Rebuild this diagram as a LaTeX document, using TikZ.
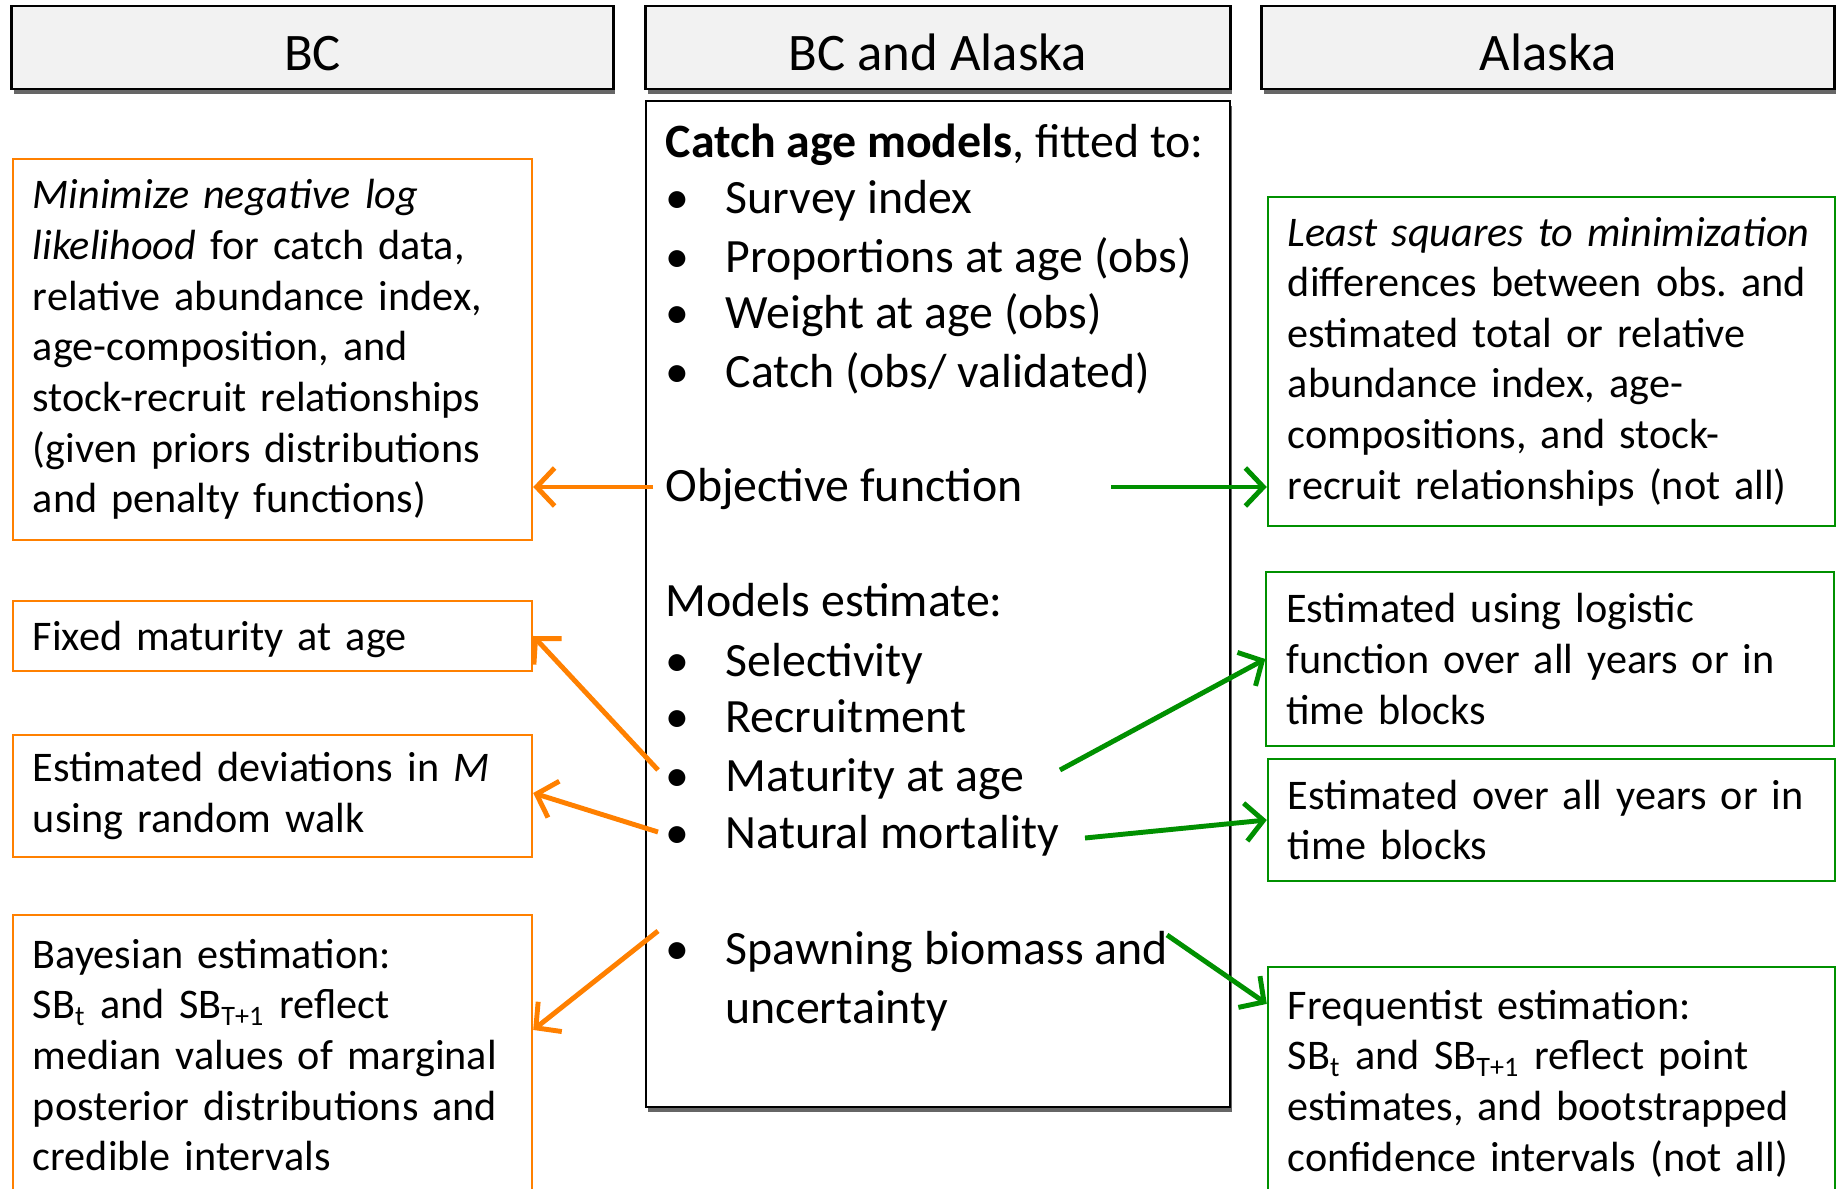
\documentclass[tikz,border=0pt]{standalone}
\usepackage{fontspec}
\setmainfont{Carlito}
\usetikzlibrary{arrows.meta,shadows}

\definecolor{bcorange}{RGB}{255,128,0}
\definecolor{akgreen}{RGB}{0,144,0}

\newcommand{\itembul}{\makebox[0.6cm][l]{\textbullet}}
\frenchspacing

\begin{document}
\begin{tikzpicture}[x=0.01cm,y=-0.01cm,
    headbox/.style={draw, line width=0.8pt, fill=black!5, minimum height=0.83cm,
        text height=13pt, text depth=0pt, font=\fontsize{15}{18}\selectfont,
        drop shadow={shadow xshift=0.2mm, shadow yshift=-0.5mm, fill=black, opacity=0.6}},
    bcbox/.style={draw=bcorange, line width=0.6pt, minimum width=5.19cm, text width=4.79cm,
        inner xsep=0.2cm, align=left, font=\fontsize{12}{14.4}\selectfont},
    akbox/.style={draw=akgreen, line width=0.6pt, minimum width=5.67cm, text width=5.27cm,
        inner xsep=0.2cm, align=left, font=\fontsize{12}{14.4}\selectfont},
    item/.style={anchor=base west, inner sep=0pt, font=\fontsize{13.6}{16.3}\selectfont},
    bcarrow/.style={draw=bcorange, line width=1.4pt, -{Straight Barb[length=1.8mm,width=3.8mm]}},
    akarrow/.style={draw=akgreen, line width=1.4pt, -{Straight Barb[length=1.8mm,width=3.8mm]}}]
    \useasboundingbox (0,0) rectangle (1837,1189);

    % column headers
    \node[headbox, minimum width=6.01cm] (BC)   at (312.5,47.5) {BC};
    \node[headbox, minimum width=5.84cm] (BOTH) at (938,47.5)   {BC and Alaska};
    \node[headbox, minimum width=5.72cm] (AK)   at (1548,47.5)  {Alaska};

    % shared model description
    \node[draw, line width=0.6pt, fill=white, minimum width=5.84cm, minimum height=10.06cm,
        drop shadow={shadow xshift=0.2mm, shadow yshift=-0.5mm, fill=black, opacity=0.6}] (MID) at (938,604) {};
    \node[item] (CAM) at (665,158) {\textbf{Catch age models}, fitted to:};
    \node[item] (SUR) at (665,214) {\itembul Survey index};
    \node[item] (PRO) at (665,273) {\itembul Proportions at age (obs)};
    \node[item] (WEI) at (665,329) {\itembul Weight at age (obs)};
    \node[item] (CAT) at (665,388) {\itembul Catch (obs/ validated)};
    \node[item] (OBJ) at (665,502) {Objective function};
    \node[item] (EST) at (665,617) {Models estimate:};
    \node[item] (SEL) at (665,677) {\itembul Selectivity};
    \node[item] (REC) at (665,733) {\itembul Recruitment};
    \node[item] (MAT) at (665,791) {\itembul Maturity at age};
    \node[item] (NAT) at (665,848) {\itembul Natural mortality};
    \node[item] (SPA) at (665,964) {\itembul Spawning biomass and};
    \node[item] (UNC) at (725,1023) {uncertainty};

    % BC side
    \node[bcbox, minimum height=3.81cm] (MINLIK) at (272.5,349.5)
        {\textit{Minimize negative log}\\ \textit{likelihood} for catch data,\\ relative abundance index,\\
         age-composition, and\\ stock-recruit relationships\\ (given priors distributions\\ and penalty functions)};
    \node[bcbox, minimum height=0.70cm, text depth=0pt] (FIXMAT) at (272.5,636) {Fixed maturity at age};
    \node[bcbox, minimum height=1.22cm] (DEVM) at (272.5,796)
        {Estimated deviations in \textit{M}\\ using random walk};
    \node[bcbox, minimum height=2.80cm] (BAYES) at (272.5,1055)
        {Bayesian estimation:\\ SB\textsubscript{t} and SB\textsubscript{T+1} reflect\\ median values of marginal\\
         posterior distributions and\\ credible intervals};

    % Alaska side
    \node[akbox, minimum height=3.29cm] (LSQ) at (1551.5,361.5)
        {\textit{Least squares to minimization}\\ differences between obs. and\\ estimated total or relative\\
         abundance index, age-\\ compositions, and stock-\\ recruit relationships (not all)};
    \node[akbox, minimum height=1.74cm] (LOGIS) at (1550,659)
        {Estimated using logistic\\ function over all years or in\\ time blocks};
    \node[akbox, minimum height=1.22cm] (BLOCK) at (1551.5,820)
        {Estimated over all years or in\\ time blocks};
    \node[akbox, minimum height=2.33cm] (FREQ) at (1551.5,1083.5)
        {Frequentist estimation:\\ SB\textsubscript{t} and SB\textsubscript{T+1} reflect point\\
         estimates, and bootstrapped\\ confidence intervals (not all)};

    % arrow starts
    \coordinate (OBJl) at (653,487);
    \coordinate (OBJr) at (1111,487);
    \coordinate (MATl) at (658,770);
    \coordinate (MATr) at (1060,770);
    \coordinate (NATl) at (658,832);
    \coordinate (NATr) at (1085,838);
    \coordinate (SPAl) at (658,931);
    \coordinate (SPAr) at (1167,935);

    \draw [bcarrow] (OBJl) -- (MINLIK.east |- OBJl);
    \draw [bcarrow] (MATl) -- (FIXMAT.east);
    \draw [bcarrow] (NATl) -- ([yshift=0.03cm]DEVM.east);
    \draw [bcarrow] (SPAl) -- ([yshift=-1.16cm]BAYES.north east);
    \draw [akarrow] (OBJr) -- (LSQ.west |- OBJr);
    \draw [akarrow] (MATr) -- (LOGIS.west);
    \draw [akarrow] (NATr) -- (BLOCK.west);
    \draw [akarrow] (SPAr) -- ([yshift=-0.38cm]FREQ.north west);
\end{tikzpicture}
\end{document}
